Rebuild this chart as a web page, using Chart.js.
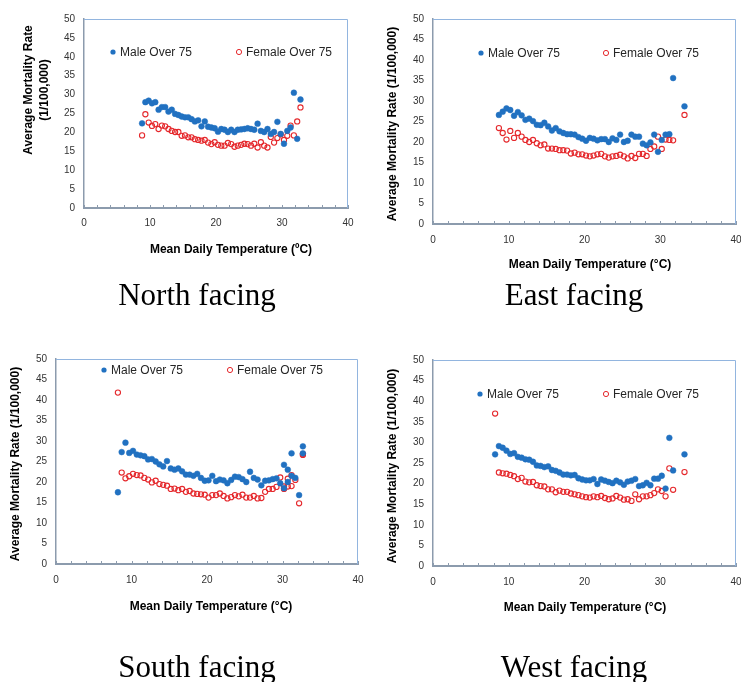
<!DOCTYPE html>
<html>
<head>
<meta charset="utf-8">
<title>Mortality vs temperature</title>
<script src="https://cdn.jsdelivr.net/npm/chart.js@4.4.0/dist/chart.umd.min.js"></script>
<style>
  html, body { margin: 0; padding: 0; background: #fff; overflow: hidden; }
  #wrap { position: relative; width: 741px; height: 682px; }
  #wrap canvas { position: absolute; left: 0; top: 0; }
</style>
</head>
<body>
<div id="wrap">
  <canvas id="north" width="741" height="682"></canvas>
  <canvas id="east" width="741" height="682"></canvas>
  <canvas id="south" width="741" height="682"></canvas>
  <canvas id="west" width="741" height="682"></canvas>
</div>
<script>
// ---- data ----
const northTemp = [8.8, 9.3, 9.8, 10.3, 10.8, 11.3, 11.8, 12.3, 12.8, 13.3, 13.8, 14.3, 14.8, 15.3, 15.8, 16.3, 16.8,
  17.3, 17.8, 18.3, 18.8, 19.3, 19.8, 20.3, 20.8, 21.3, 21.8, 22.3, 22.8, 23.3, 23.8, 24.3, 24.8, 25.3, 25.8, 26.3,
  26.8, 27.3, 27.8, 28.3, 28.8, 29.3, 29.8, 30.3, 30.8, 31.3, 31.8, 32.3, 32.8];
const northMale = [22.4, 28.0, 28.4, 27.7, 28.0, 26.0, 26.7, 26.7, 25.5, 26.0, 24.9, 24.6, 24.2, 24.0, 24.0, 23.5, 22.9,
  23.2, 21.6, 22.9, 21.5, 21.3, 21.1, 20.2, 20.9, 20.7, 20.1, 20.7, 20.1, 20.7, 20.8, 20.9, 21.1, 20.9, 20.7, 22.3,
  20.4, 20.1, 20.9, 19.6, 20.1, 22.8, 19.6, 17.0, 20.4, 21.3, 30.5, 18.3, 28.7];
const northFemale = [19.2, 24.8, 22.6, 21.7, 22.2, 20.9, 21.8, 21.6, 20.9, 20.4, 20.1, 20.1, 19.1, 19.2, 18.7, 18.7, 18.2,
  18.0, 17.8, 18.0, 17.3, 16.9, 17.4, 16.7, 16.5, 16.5, 17.2, 16.9, 16.2, 16.5, 16.7, 17.0, 16.9, 16.5, 17.0, 16.0,
  17.4, 16.5, 16.0, 18.8, 17.3, 18.5, 19.5, 18.0, 19.1, 21.8, 19.2, 22.9, 26.6];

const eastTemp = [8.7, 9.2, 9.7, 10.2, 10.7, 11.2, 11.7, 12.2, 12.7, 13.2, 13.7, 14.2, 14.7, 15.2, 15.7, 16.2, 16.7,
  17.2, 17.7, 18.2, 18.7, 19.2, 19.7, 20.2, 20.7, 21.2, 21.7, 22.2, 22.7, 23.2, 23.7, 24.2, 24.7, 25.2, 25.7, 26.2,
  26.7, 27.2, 27.7, 28.2, 28.7, 29.2, 29.7, 30.2, 30.7, 31.2, 31.7, 33.2];
const eastMale = [26.6, 27.4, 28.2, 27.8, 26.4, 27.3, 26.5, 25.4, 25.7, 25.1, 24.2, 24.1, 24.7, 23.8, 22.8, 23.4, 22.6,
  22.2, 21.9, 21.9, 21.8, 21.2, 20.8, 20.3, 21.0, 20.8, 20.4, 20.7, 20.7, 20.0, 20.9, 20.5, 21.8, 20.0, 20.3, 21.8,
  21.3, 21.3, 19.6, 19.2, 19.9, 21.8, 17.6, 20.5, 21.8, 21.9, 35.6, 28.7];
const eastFemale = [23.4, 22.2, 20.6, 22.7, 21.0, 22.2, 21.3, 20.5, 20.0, 20.5, 19.7, 19.2, 19.4, 18.4, 18.4, 18.3, 18.0,
  18.0, 17.9, 17.2, 17.4, 17.0, 17.0, 16.7, 16.5, 16.7, 17.0, 17.1, 16.5, 16.2, 16.5, 16.6, 16.9, 16.5, 16.0, 16.6,
  16.1, 17.1, 17.1, 16.6, 18.3, 18.9, 21.3, 18.3, 20.6, 20.5, 20.4, 26.6];

const southTemp = [8.2, 8.7, 9.2, 9.7, 10.2, 10.7, 11.2, 11.7, 12.2, 12.7, 13.2, 13.7, 14.2, 14.7, 15.2, 15.7, 16.2,
  16.7, 17.2, 17.7, 18.2, 18.7, 19.2, 19.7, 20.2, 20.7, 21.2, 21.7, 22.2, 22.7, 23.2, 23.7, 24.2, 24.7, 25.2, 25.7,
  26.2, 26.7, 27.2, 27.7, 28.2, 28.7, 29.2, 29.7, 30.2, 30.2, 30.7, 30.7, 31.2, 31.2, 31.7, 32.2, 32.7, 32.7];
const southMale = [17.5, 27.3, 29.6, 27.1, 27.6, 26.7, 26.5, 26.3, 25.5, 25.6, 25.0, 24.3, 23.8, 25.1, 23.3, 23.0, 23.3,
  22.6, 21.8, 21.8, 21.5, 22.0, 21.0, 20.3, 20.4, 21.5, 20.2, 20.6, 20.4, 19.7, 20.5, 21.3, 21.2, 20.7, 20.0, 22.5,
  21.0, 20.6, 19.2, 20.3, 20.4, 20.7, 20.9, 19.7, 24.2, 18.5, 23.0, 20.0, 27.0, 21.5, 21.0, 16.8, 28.7, 27.0];
const southFemale = [41.8, 22.3, 20.9, 21.4, 22.0, 21.7, 21.6, 21.0, 20.6, 19.9, 20.3, 19.5, 19.3, 19.1, 18.3, 18.4, 18.0,
  18.3, 17.6, 17.8, 17.2, 17.1, 17.0, 16.9, 16.2, 16.8, 16.8, 17.2, 16.6, 16.0, 16.3, 16.8, 16.5, 16.9, 16.2, 16.2,
  16.6, 16.0, 16.1, 17.6, 18.3, 18.3, 18.8, 21.1, 18.3, 18.9, 20.8, 18.9, 21.7, 19.0, 20.5, 14.8, 26.6, 26.8];

const westTemp = [8.2, 8.7, 9.2, 9.7, 10.2, 10.7, 11.2, 11.7, 12.2, 12.7, 13.2, 13.7, 14.2, 14.7, 15.2, 15.7, 16.2,
  16.7, 17.2, 17.7, 18.2, 18.7, 19.2, 19.7, 20.2, 20.7, 21.2, 21.7, 22.2, 22.7, 23.2, 23.7, 24.2, 24.7, 25.2, 25.7,
  26.2, 26.7, 27.2, 27.7, 28.2, 28.7, 29.2, 29.7, 30.2, 30.7, 31.2, 31.7, 33.2];
const westMale = [27.1, 29.1, 28.7, 28.0, 27.2, 27.4, 26.5, 26.3, 25.9, 25.8, 25.3, 24.4, 24.3, 24.0, 24.2, 23.3, 23.1,
  22.7, 22.2, 22.2, 22.0, 22.1, 21.3, 21.0, 20.8, 20.8, 21.1, 19.9, 21.0, 20.7, 20.4, 20.1, 20.7, 20.3, 19.7, 20.5,
  20.7, 21.1, 19.4, 19.6, 20.2, 19.6, 21.2, 21.2, 21.9, 18.8, 31.1, 23.2, 27.1];
const westFemale = [37.0, 22.7, 22.5, 22.4, 22.1, 21.8, 21.1, 21.4, 20.5, 20.3, 20.4, 19.6, 19.4, 19.3, 18.6, 18.6, 17.9,
  18.3, 18.0, 18.0, 17.6, 17.4, 17.2, 16.9, 16.7, 16.6, 16.9, 16.7, 17.0, 16.5, 16.2, 16.4, 17.0, 16.6, 16.1, 16.2,
  15.8, 17.4, 16.2, 16.9, 16.9, 17.2, 17.7, 18.6, 18.2, 16.9, 23.7, 18.5, 22.8];

const seriesNames = ['Male Over 75', 'Female Over 75'];
const xTicks = [0, 10, 20, 30, 40];
const yTicks = [0, 5, 10, 15, 20, 25, 30, 35, 40, 45, 50];

// ---- look ----
const maleColor = '#2171c1';
const femaleColor = '#e5282c';
const axisColor = '#8c9bad';
const frameColor = '#92b5df';
const sansFont = '"Liberation Sans", Arial, sans-serif';
const serifFont = '"Liberation Serif", "Times New Roman", serif';
const Y_AXIS_W = 40;
const X_AXIS_H = 30;

// plot area + text positions per panel (page pixels)
const panels = [
  {
    id: 'north', temp: northTemp, male: northMale, female: northFemale,
    area: { left: 84, top: 19, right: 348, bottom: 208 }, xPad: 9,
    legend: { y: 52, maleX: 113, femaleX: 239 },
    xTitle: { text: 'Mean Daily Temperature (\u00baC)', x: 231, y: 250 },
    yTitle: { lines: ['Average Mortality Rate', '(1/100,000)'], x: 29, y: 90, lineGap: 16 },
    caption: { text: 'North facing', x: 197, y: 305 }
  },
  {
    id: 'east', temp: eastTemp, male: eastMale, female: eastFemale,
    area: { left: 433, top: 19, right: 736, bottom: 224 }, xPad: 10,
    legend: { y: 53, maleX: 481, femaleX: 606 },
    xTitle: { text: 'Mean Daily Temperature (\u00b0C)', x: 590, y: 265 },
    yTitle: { lines: ['Average Mortality Rate (1/100,000)'], x: 393, y: 124, lineGap: 16 },
    caption: { text: 'East facing', x: 574, y: 305 }
  },
  {
    id: 'south', temp: southTemp, male: southMale, female: southFemale,
    area: { left: 56, top: 359, right: 358, bottom: 564 }, xPad: 10,
    legend: { y: 370, maleX: 104, femaleX: 230 },
    xTitle: { text: 'Mean Daily Temperature (\u00b0C)', x: 211, y: 607 },
    yTitle: { lines: ['Average Mortality Rate (1/100,000)'], x: 16, y: 464, lineGap: 16 },
    caption: { text: 'South facing', x: 197, y: 677 }
  },
  {
    id: 'west', temp: westTemp, male: westMale, female: westFemale,
    area: { left: 433, top: 360, right: 736, bottom: 566 }, xPad: 10,
    legend: { y: 394, maleX: 480, femaleX: 606 },
    xTitle: { text: 'Mean Daily Temperature (\u00b0C)', x: 585, y: 608 },
    yTitle: { lines: ['Average Mortality Rate (1/100,000)'], x: 393, y: 466, lineGap: 16 },
    caption: { text: 'West facing', x: 574, y: 677 }
  }
];

function toPoints(xs, ys) {
  return xs.map((x, i) => ({ x: x, y: ys[i] }));
}

// frame, minor ticks, legend, titles and caption
function makeDecor(p) {
  return {
    id: 'decor_' + p.id,
    afterDraw(chart) {
      const ctx = chart.ctx;
      const a = chart.chartArea;
      const xs = chart.scales.x;
      ctx.save();

      // light blue frame on top and right
      ctx.strokeStyle = frameColor;
      ctx.lineWidth = 1;
      ctx.beginPath();
      ctx.moveTo(a.left, a.top + 0.5);
      ctx.lineTo(a.right - 0.5, a.top + 0.5);
      ctx.lineTo(a.right - 0.5, a.bottom);
      ctx.stroke();

      // inside tick marks on the x axis every 2 units
      ctx.strokeStyle = axisColor;
      ctx.beginPath();
      for (let v = xs.min; v <= xs.max; v += 2) {
        const px = Math.round(xs.getPixelForValue(v)) + 0.5;
        ctx.moveTo(px, a.bottom);
        ctx.lineTo(px, a.bottom - 3);
      }
      ctx.stroke();

      // legend inside the plot area
      const ds = chart.data.datasets;
      const lx = [p.legend.maleX, p.legend.femaleX];
      ctx.font = '12px ' + sansFont;
      ctx.textBaseline = 'middle';
      ctx.textAlign = 'left';
      ds.forEach((d, i) => {
        ctx.beginPath();
        ctx.arc(lx[i], p.legend.y, 2.6, 0, Math.PI * 2);
        if (i === 0) {
          ctx.fillStyle = d.backgroundColor;
          ctx.fill();
        } else {
          ctx.strokeStyle = d.borderColor;
          ctx.lineWidth = 1;
          ctx.stroke();
        }
        ctx.fillStyle = '#262626';
        ctx.fillText(d.label, lx[i] + 7, p.legend.y + 0.5);
      });

      // axis titles
      ctx.fillStyle = '#000';
      ctx.font = 'bold 12px ' + sansFont;
      ctx.textAlign = 'center';
      ctx.fillText(p.xTitle.text, p.xTitle.x, p.xTitle.y);

      ctx.save();
      ctx.translate(p.yTitle.x, p.yTitle.y);
      ctx.rotate(-Math.PI / 2);
      p.yTitle.lines.forEach((line, i) => {
        ctx.fillText(line, 0, i * p.yTitle.lineGap);
      });
      ctx.restore();

      // caption under the panel
      ctx.font = '31px ' + serifFont;
      ctx.textBaseline = 'alphabetic';
      ctx.fillText(p.caption.text, p.caption.x, p.caption.y);

      ctx.restore();
    }
  };
}

Chart.defaults.font.family = sansFont;

panels.forEach(p => {
  const W = 741, H = 682;
  new Chart(document.getElementById(p.id), {
    type: 'scatter',
    data: {
      datasets: [
        {
          label: seriesNames[0],
          data: toPoints(p.temp, p.male),
          backgroundColor: maleColor,
          borderColor: maleColor,
          borderWidth: 0.5,
          pointRadius: 2.9,
          pointHoverRadius: 2.9
        },
        {
          label: seriesNames[1],
          data: toPoints(p.temp, p.female),
          backgroundColor: 'rgba(255,255,255,0)',
          borderColor: femaleColor,
          borderWidth: 1.1,
          pointRadius: 2.6,
          pointHoverRadius: 2.6
        }
      ]
    },
    options: {
      responsive: false,
      animation: false,
      events: [],
      layout: {
        padding: {
          left: p.area.left - Y_AXIS_W,
          top: p.area.top,
          right: W - p.area.right,
          bottom: H - p.area.bottom - X_AXIS_H
        }
      },
      plugins: {
        legend: { display: false },
        tooltip: { enabled: false }
      },
      scales: {
        x: {
          type: 'linear',
          min: xTicks[0],
          max: xTicks[xTicks.length - 1],
          afterBuildTicks: (s) => { s.ticks = xTicks.map(v => ({ value: v })); },
          afterFit: (s) => { s.height = X_AXIS_H; s.paddingLeft = 0; s.paddingRight = 0; },
          ticks: { color: '#333', font: { size: 10 }, padding: p.xPad, maxRotation: 0 },
          grid: { display: false, drawTicks: false },
          border: { display: true, color: axisColor, width: 2 }
        },
        y: {
          type: 'linear',
          min: yTicks[0],
          max: yTicks[yTicks.length - 1],
          afterBuildTicks: (s) => { s.ticks = yTicks.map(v => ({ value: v })); },
          afterFit: (s) => { s.width = Y_AXIS_W; s.paddingTop = 0; s.paddingBottom = 0; },
          ticks: { color: '#333', font: { size: 10 }, padding: 9 },
          grid: { display: false, drawTicks: false },
          border: { display: true, color: axisColor, width: 1.5 }
        }
      }
    },
    plugins: [makeDecor(p)]
  });
});
</script>
</body>
</html>
